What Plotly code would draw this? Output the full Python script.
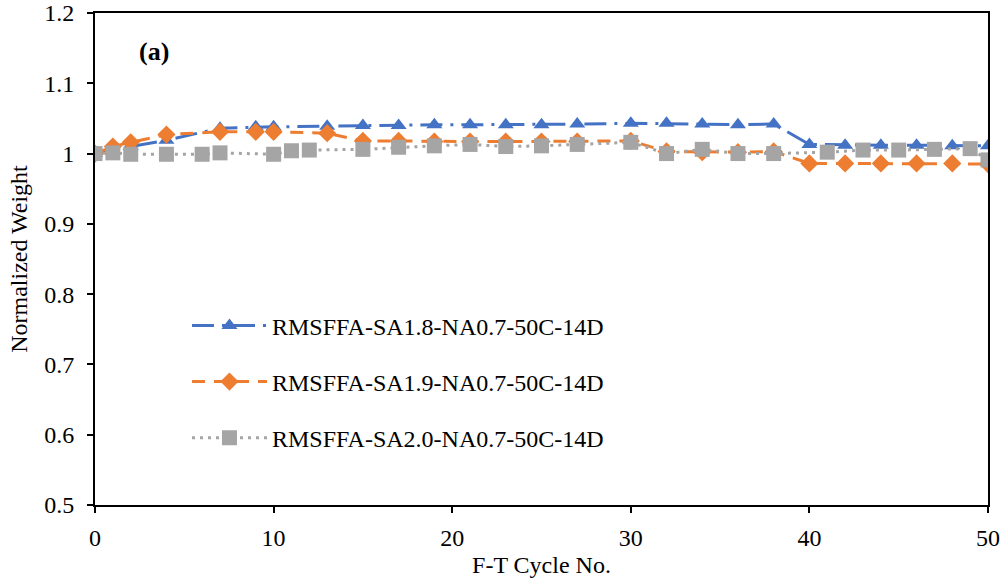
import plotly.graph_objects as go

# Freeze-thaw cycle numbers and normalized weights for each mix
cycles_sa18 = [0, 1, 2, 4, 7, 9, 10, 13, 15, 17, 19, 21, 23, 25, 27, 30, 32, 34, 36, 38, 40, 42, 44, 46, 48, 50]
weight_sa18 = [1.0, 1.004, 1.010, 1.019, 1.036, 1.038, 1.038, 1.039, 1.040, 1.040, 1.041, 1.041, 1.041, 1.041,
               1.042, 1.043, 1.043, 1.042, 1.041, 1.042, 1.013, 1.012, 1.012, 1.012, 1.011, 1.011]

cycles_sa19 = [0, 1, 2, 4, 7, 9, 10, 13, 15, 17, 19, 21, 23, 25, 27, 30, 32, 34, 36, 38, 40, 42, 44, 46, 48, 50]
weight_sa19 = [1.0, 1.010, 1.016, 1.027, 1.031, 1.031, 1.031, 1.029, 1.018, 1.018, 1.017, 1.017, 1.017, 1.017,
               1.017, 1.018, 1.003, 1.002, 1.002, 1.003, 0.986, 0.986, 0.986, 0.986, 0.986, 0.985]

cycles_sa20 = [0, 1, 2, 4, 6, 7, 10, 11, 12, 15, 17, 19, 21, 23, 25, 27, 30, 32, 34, 36, 38, 41, 43, 45, 47, 49, 50]
weight_sa20 = [1.0, 1.001, 0.999, 0.999, 0.999, 1.001, 0.999, 1.004, 1.005, 1.006, 1.009, 1.011, 1.013, 1.010,
               1.011, 1.013, 1.016, 1.000, 1.006, 1.000, 1.000, 1.002, 1.005, 1.005, 1.006, 1.007, 0.991]

series_names = [
    "RMSFFA-SA1.8-NA0.7-50C-14D",
    "RMSFFA-SA1.9-NA0.7-50C-14D",
    "RMSFFA-SA2.0-NA0.7-50C-14D",
]

x_ticks = [0, 10, 20, 30, 40, 50]
y_ticks = [0.5, 0.6, 0.7, 0.8, 0.9, 1.0, 1.1, 1.2]
y_tick_text = ["0.5", "0.6", "0.7", "0.8", "0.9", "1", "1.1", "1.2"]

FONT = "Liberation Serif"
FS = 24
BLUE, ORANGE, GRAY = "#4472C4", "#ED7D31", "#A5A5A5"

fig = go.Figure()

fig.add_trace(go.Scatter(
    x=cycles_sa18, y=weight_sa18, name=series_names[0], mode="lines+markers",
    legendgroup="a",
    line=dict(color=BLUE, width=3, dash="22px,8px,3px,8px"),
    marker=dict(symbol="triangle-up", size=14, color=BLUE),
))
fig.add_trace(go.Scatter(
    x=cycles_sa19, y=weight_sa19, name=series_names[1], mode="lines+markers",
    legendgroup="b",
    line=dict(color=ORANGE, width=3, dash="13px,9px"),
    marker=dict(symbol="diamond", size=14, color=ORANGE),
))
fig.add_trace(go.Scatter(
    x=cycles_sa20, y=weight_sa20, name=series_names[2], mode="lines+markers",
    legendgroup="c",
    line=dict(color=GRAY, width=3, dash="3px,5px"),
    marker=dict(symbol="square", size=15, color=GRAY),
))

fig.add_annotation(
    x=3.3, y=1.145, xref="x", yref="y", text="<b>(a)</b>", showarrow=False,
    font=dict(family=FONT, size=26, color="black"),
)

fig.update_layout(
    width=1008, height=584,
    margin=dict(l=95, r=20, t=13, b=79, autoexpand=False),
    plot_bgcolor="white", paper_bgcolor="white",
    font=dict(family=FONT, size=FS, color="black"),
    showlegend=True,
    legend=dict(
        x=0.103, y=0.41, xanchor="left", yanchor="top",
        bgcolor="rgba(0,0,0,0)",
        font=dict(family=FONT, size=FS, color="black"),
        itemwidth=75, tracegroupgap=22, traceorder="grouped",
    ),
    xaxis=dict(
        range=[0, 50], tickvals=x_ticks, ticks="outside", ticklen=6, tickwidth=1.5,
        tickcolor="black", showline=True, linecolor="black", linewidth=2, mirror=True,
        showgrid=False, zeroline=False, automargin=False, ticklabelstandoff=4,
        title=dict(text="F-T Cycle No.", font=dict(family=FONT, size=FS), standoff=6),
        tickfont=dict(family=FONT, size=FS),
    ),
    yaxis=dict(
        range=[0.5, 1.2], tickvals=y_ticks, ticktext=y_tick_text, ticks="outside", ticklen=6,
        tickwidth=1.5, tickcolor="black", showline=True, linecolor="black", linewidth=2,
        mirror=True, showgrid=False, zeroline=False, automargin=False, ticklabelstandoff=8,
        title=dict(text="Normalized Weight", font=dict(family=FONT, size=FS), standoff=10),
        tickfont=dict(family=FONT, size=FS),
    ),
)

fig.write_html("out.html")
